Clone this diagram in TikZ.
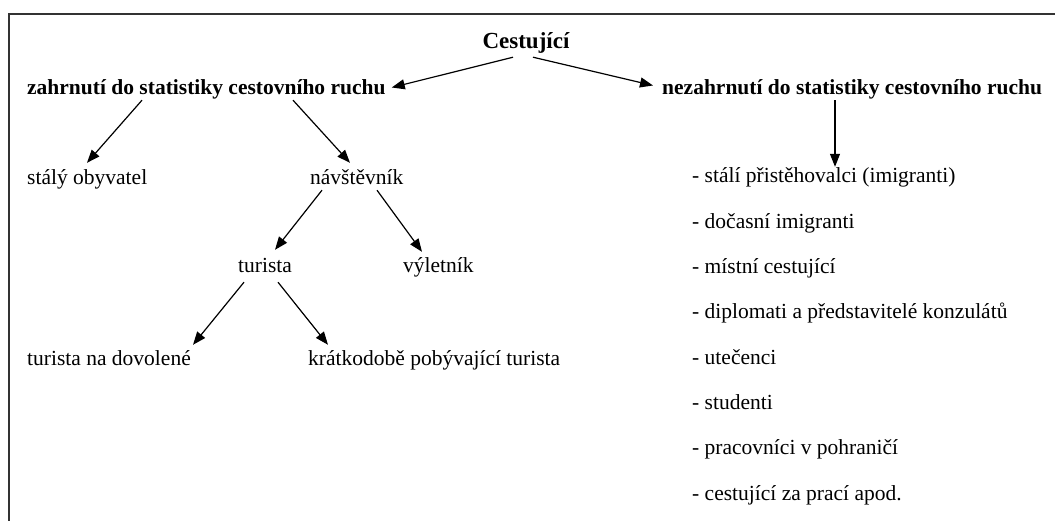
\documentclass[tikz,border=0pt]{standalone}
\usepackage{fontspec}
\setmainfont{Liberation Serif}
\usetikzlibrary{arrows.meta}

\begin{document}
\begin{tikzpicture}[x=1pt,y=-1pt,
		txt/.style={inner sep=0pt,text height=16pt,text depth=5pt,font=\fontsize{21.5}{26}\selectfont},
		hd/.style={txt,font=\fontsize{21.5}{26}\selectfont\bfseries},
		arr/.style={-{Triangle[length=13pt,width=10pt]},line width=1.2pt}]
		\useasboundingbox (0,0) rectangle (1055,521);
		\draw[line width=2pt,black!80] (9,521) -- (9,14) -- (1055,14);
		
		\node[hd,anchor=base,font=\fontsize{23}{28}\selectfont\bfseries](C) at (526,49) {Cestující};
		\node[hd,anchor=base west](IN) at (27,95) {zahrnutí do statistiky cestovního ruchu};
		\node[hd,anchor=base west](OUT) at (662,95) {nezahrnutí do statistiky cestovního ruchu};
		\node[txt,anchor=base west](RES) at (27,185) {stálý obyvatel};
		\node[txt,anchor=base west](VIS) at (310,185) {návštěvník};
		\node[txt,anchor=base west](TOU) at (238,273) {turista};
		\node[txt,anchor=base west](EXC) at (403,273) {výletník};
		\node[txt,anchor=base west](HOL) at (27,365) {turista na dovolené};
		\node[txt,anchor=base west](SHT) at (308,365) {krátkodobě pobývající turista};
		\foreach \t [count=\i] in {stálí přistěhovalci (imigranti),dočasní imigranti,místní cestující,diplomati a představitelé konzulátů,utečenci,studenti,pracovníci v pohraničí,cestující za prací apod.}
			\node[txt,anchor=base west](L\i) at (692,{183+45.3*(\i-1)}) {- \t};
		
		\draw[arr] ([xshift=-13pt,yshift=-3pt]C.south) -- ([xshift=6pt,yshift=2pt]IN.east);
		\draw[arr] ([xshift=7pt,yshift=-3pt]C.south) -- ([xshift=-9pt,yshift=4pt]OUT.west);
		\draw[arr] ([xshift=115pt]IN.south west) -- ([xshift=60pt,yshift=6pt]RES.north west);
		\draw[arr] ([xshift=266pt]IN.south west) -- ([xshift=40pt,yshift=6pt]VIS.north west);
		\draw[arr] ([xshift=173pt]OUT.south west) -- ([xshift=143pt]L1.north west);
		\draw[arr] ([xshift=12pt]VIS.south west) -- ([xshift=37pt,yshift=7pt]TOU.north west);
		\draw[arr] ([xshift=67pt]VIS.south west) -- ([xshift=19pt,yshift=5pt]EXC.north west);
		\draw[arr] ([xshift=6pt,yshift=-4pt]TOU.south west) -- ([xshift=166pt,yshift=4pt]HOL.north west);
		\draw[arr] ([xshift=40pt,yshift=-4pt]TOU.south west) -- ([xshift=20pt,yshift=4pt]SHT.north west);
	\end{tikzpicture}
\end{document}
